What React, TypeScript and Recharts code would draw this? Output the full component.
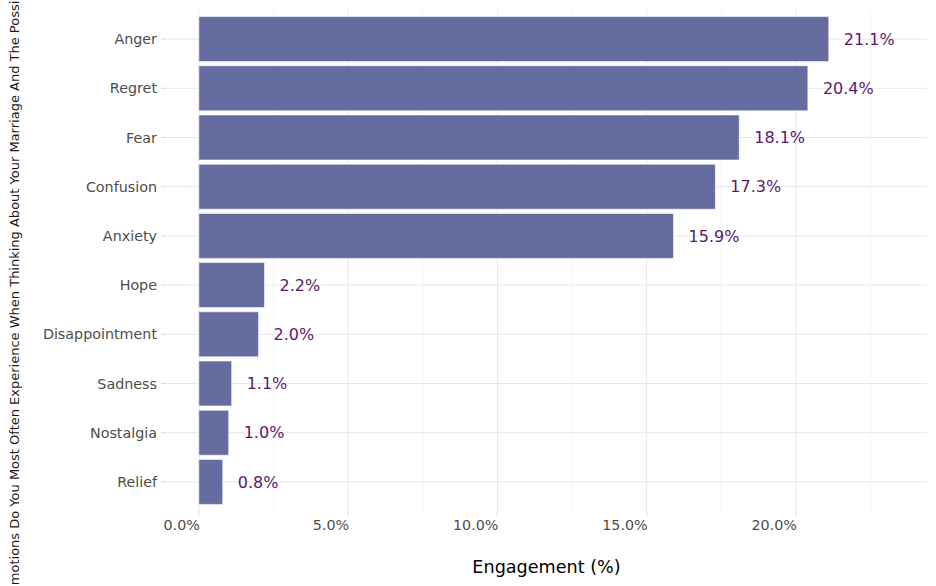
import React from 'react';
import { BarChart, Bar, XAxis, YAxis, CartesianGrid, LabelList } from 'recharts';

const categories = ['Anger', 'Regret', 'Fear', 'Confusion', 'Anxiety', 'Hope', 'Disappointment', 'Sadness', 'Nostalgia', 'Relief'];
const engagement = [21.1, 20.4, 18.1, 17.3, 15.9, 2.2, 2.0, 1.1, 1.0, 0.8];
const majorTicks = [0, 5, 10, 15, 20];
const minorTicks = [2.5, 7.5, 12.5, 17.5, 22.5];
const xDomain = [-1.1, 24.39];
const xTitle = 'Engagement (%)';
const yTitle = 'What Emotions Do You Most Often Experience When Thinking About Your Marriage And The Possibility Of Divorce?';

const data = categories.map((name, i) => ({ name, value: engagement[i] }));

const FONT = 'DejaVu Sans';

const XTick = (props: any) => {
  const { x, y, payload } = props;
  return (
    <text x={x + 1} y={y} dy={12} textAnchor="end" fill="#4d4d4d" fontSize={14.3} fontFamily={FONT}>
      {`${Number(payload.value).toFixed(1)}%`}
    </text>
  );
};

const YTitle = (props: any) => {
  const vb = props.viewBox || { x: 0, y: 9.5, width: 166, height: 502 };
  const cx = 19;
  const cy = vb.y + vb.height / 2;
  return (
    <text
      x={cx}
      y={cy}
      textAnchor="middle"
      transform={`rotate(-90, ${cx}, ${cy})`}
      fill="#1a1a1a"
      fontSize={13}
      fontFamily={FONT}
    >
      {yTitle}
    </text>
  );
};

const XTitle = (props: any) => {
  const vb = props.viewBox || { x: 166, y: 511.5, width: 761, height: 74.5 };
  return (
    <text x={vb.x + vb.width / 2} y={vb.y + 61.5} textAnchor="middle" fill="#000" fontSize={17.6} fontFamily={FONT}>
      {xTitle}
    </text>
  );
};

export default function App() {
  return (
    <div style={{ position: 'absolute', left: 0, top: 0, width: 936, height: 586, background: '#fff' }}>
      <BarChart
        width={936}
        height={586}
        data={data}
        layout="vertical"
        margin={{ top: 9.5, right: 9, bottom: 0, left: 0 }}
        barCategoryGap="4.3%"
      >
        <CartesianGrid horizontal={false} verticalValues={minorTicks} syncWithTicks stroke="#f3f3f3" strokeWidth={0.8} />
        <CartesianGrid syncWithTicks stroke="#e8e8e8" strokeWidth={1} />
        <XAxis
          type="number"
          domain={xDomain}
          ticks={majorTicks}
          allowDataOverflow
          height={74.5}
          axisLine={false}
          tickLine={{ stroke: '#d6d6d6' }}
          tickSize={4}
          tickMargin={2}
          tick={<XTick />}
          label={(p: any) => <XTitle {...p} />}
        />
        <YAxis
          type="category"
          dataKey="name"
          width={166}
          padding={{ top: 5, bottom: 5 }}
          axisLine={false}
          tickLine={{ stroke: '#dcdcdc' }}
          tickSize={5}
          tickMargin={4}
          tick={{ fill: '#4d4d4d', fontSize: 14.3, fontFamily: FONT }}
          label={(p: any) => <YTitle {...p} />}
        />
        <Bar dataKey="value" fill="#575f98" fillOpacity={0.92} stroke="#ffffff" strokeWidth={0.6} isAnimationActive={false}>
          <LabelList
            dataKey="value"
            position="right"
            offset={15}
            formatter={(v: any) => `${Number(v).toFixed(1)}%`}
            fill="#5a1a6b"
            fontSize={16}
            fontFamily={FONT}
          />
        </Bar>
      </BarChart>
    </div>
  );
}
